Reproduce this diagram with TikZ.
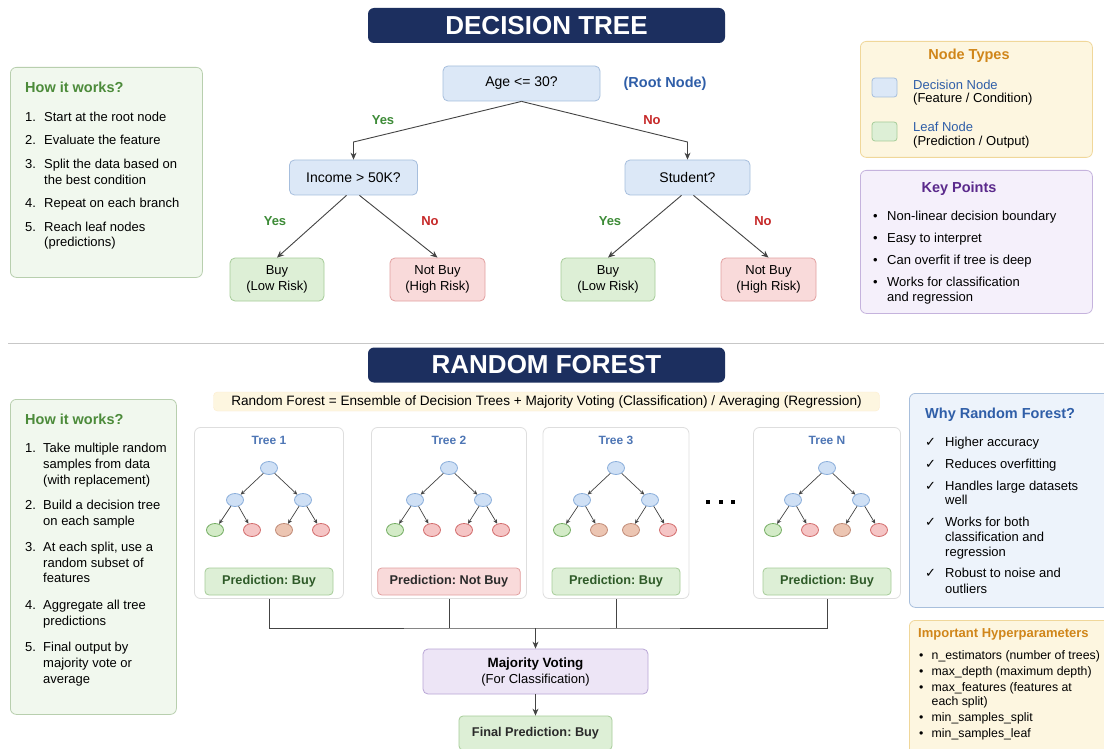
\documentclass[tikz,border=0pt]{standalone}
\usepackage{fontspec}
\setmainfont{Liberation Sans}
\newfontfamily\symfont{DejaVu Sans}
\usetikzlibrary{positioning,arrows.meta,shapes.geometric}
\frenchspacing

\definecolor{navy}{HTML}{1C2F5F}
\definecolor{decfill}{HTML}{DCE8F7}
\definecolor{decdraw}{HTML}{A6BEDD}
\definecolor{leaffill}{HTML}{DDEFD6}
\definecolor{leafdraw}{HTML}{A6CC98}
\definecolor{badfill}{HTML}{F9DADA}
\definecolor{baddraw}{HTML}{E2A0A0}
\definecolor{yesgreen}{HTML}{3D8B37}
\definecolor{nored}{HTML}{C62828}
\definecolor{bluetxt}{HTML}{2F5EA8}
\definecolor{greenfill}{HTML}{F1F8EE}
\definecolor{greendraw}{HTML}{B8CFAE}
\definecolor{greentxt}{HTML}{4C8B3A}
\definecolor{predgreen}{HTML}{2E5A28}
\definecolor{preddark}{HTML}{2A2A2A}
\definecolor{yelfill}{HTML}{FDF6E0}
\definecolor{yeldraw}{HTML}{F0D79A}
\definecolor{orangetxt}{HTML}{D0861A}
\definecolor{lavfill}{HTML}{F5F0FB}
\definecolor{lavdraw}{HTML}{C5B3DD}
\definecolor{purpletxt}{HTML}{5B2A8C}
\definecolor{bluefill}{HTML}{EDF3FB}
\definecolor{bluedraw}{HTML}{A8BFDC}
\definecolor{votefill}{HTML}{EDE5F6}
\definecolor{votedraw}{HTML}{B9A6D6}
\definecolor{edgegrey}{HTML}{444444}
\definecolor{minidec}{HTML}{CFE0F5}
\definecolor{minidecdraw}{HTML}{8AAEDB}
\definecolor{minigreen}{HTML}{D3EBC7}
\definecolor{minigreendraw}{HTML}{74AD62}
\definecolor{minired}{HTML}{F5C5C5}
\definecolor{mireddraw}{HTML}{D26B6B}
\definecolor{minibrown}{HTML}{ECC5B2}
\definecolor{minibrowndraw}{HTML}{C08A76}
\newcommand\chk{{\symfont\char"2713}}

\begin{document}
\begin{tikzpicture}[x=1pt,y=-1pt,
fs/.style={font=\fontsize{#1}{16}\selectfont},
txt/.style={anchor=base west,inner sep=0pt,fs=13},
head/.style={inner sep=0pt,font=\fontsize{14.5}{16}\selectfont\bfseries},
banner/.style={fill=navy,rounded corners=6pt,minimum width=357pt,minimum height=35pt,
    text=white,font=\fontsize{26}{30}\selectfont\bfseries},
panel/.style={draw=#1draw,fill=#1fill,rounded corners=6pt,line width=0.8pt,anchor=north west},
decision/.style={draw=decdraw,fill=decfill,rounded corners=5pt,line width=0.8pt,minimum height=35pt,fs=14},
leaf/.style={draw=leafdraw,fill=leaffill,rounded corners=5pt,line width=0.8pt,minimum width=94pt,
    minimum height=43pt,align=center,fs=13},
badleaf/.style={leaf,draw=baddraw,fill=badfill},
yes/.style={text=yesgreen,inner sep=0pt,font=\fontsize{13}{16}\selectfont\bfseries},
no/.style={yes,text=nored},
edge/.style={draw=edgegrey,line width=0.9pt,-{Stealth[length=7pt,width=6pt]}},
link/.style={draw=edgegrey,line width=0.9pt},
treebox/.style={draw=black!13,fill=white,rounded corners=6pt,line width=0.8pt},
mini/.style={ellipse,minimum width=17pt,minimum height=13pt,inner sep=0pt,line width=0.8pt},
decnode/.style={mini,fill=minidec,draw=minidecdraw},
greenleaf/.style={mini,fill=minigreen,draw=minigreendraw},
redleaf/.style={mini,fill=minired,draw=mireddraw},
brownleaf/.style={mini,fill=minibrown,draw=minibrowndraw},
miniedge/.style={draw=edgegrey,line width=0.7pt,-{Stealth[length=4.5pt,width=4pt]}},
predbox/.style={rounded corners=4pt,line width=0.8pt,minimum width=128pt,minimum height=27pt,
    inner xsep=12pt,font=\fontsize{12.7}{16}\selectfont\bfseries}]

\clip (0,0) rectangle (1104,749);
\fill[white] (0,0) rectangle (1104,749);

% ---------- decision tree ----------
\node (dtbanner) [banner] at (546.5,25.5) {DECISION TREE};

\node (dthow) [panel=green,minimum width=192pt,minimum height=210pt] at (10,67) {};
\node (dthowtitle) [head,text=greentxt,anchor=base west] at (25,93) {How it works?};
\foreach \n/\y/\t [count=\k] in {1./121.5/{Start at the root node},
    2./144.5/{Evaluate the feature},
    3./168.5/{Split the data based on}, /184.5/{the best condition},
    4./207.5/{Repeat on each branch},
    5./231.5/{Reach leaf nodes}, /246.5/{(predictions)}}
  \node (dtstep\k) [txt] at (25,\y) {\makebox[19pt][l]{\n}\t};

\node (age) [decision,minimum width=157pt] at (521.5,83.5) {Age <= 30?};
\node (rootlbl) [head,text=bluetxt,right=23pt of age] {(Root Node)};
\node (income) [decision,minimum width=128pt] at (353.5,177.5) {Income > 50K?};
\node (student) [decision,minimum width=125pt] at (687.5,177.5) {Student?};
\node (buy1) [leaf] at (277,279.5) {Buy\\(Low Risk)};
\node (nobuy1) [badleaf,minimum width=95pt] at (437.5,279.5) {Not Buy\\(High Risk)};
\node (buy2) [leaf] at (608,279.5) {Buy\\(Low Risk)};
\node (nobuy2) [badleaf,minimum width=95pt] at (768.5,279.5) {Not Buy\\(High Risk)};

\coordinate (yesbend) at (353.5,142);
\coordinate (nobend) at (687.5,142);
\draw[edge] (age.south) -- (yesbend) -- (income.north);
\draw[edge] (age.south) -- (nobend) -- (student.north);
\draw[edge] ([xshift=-7pt]income.south) -- (buy1.north);
\draw[edge] ([xshift=6pt]income.south) -- (nobuy1.north);
\draw[edge] ([xshift=-6pt]student.south) -- (buy2.north);
\draw[edge] ([xshift=6pt]student.south) -- (nobuy2.north);

\node (yesa) [yes] at (383,120) {Yes};
\node (noa) [no] at (652,120) {No};
\node (yesb) [yes] at (275,221) {Yes};
\node (nob) [no] at (430,221) {No};
\node (yesc) [yes] at (610,221) {Yes};
\node (noc) [no] at (763,221) {No};

% node types and key points
\node (types) [panel=yel,minimum width=232pt,minimum height=116pt] at (860,41) {};
\node (typestitle) [head,text=orangetxt] at (969,56) {Node Types};
\node (swdec) [draw=decdraw,fill=decfill,rounded corners=3pt,line width=0.8pt,
    minimum width=25pt,minimum height=19pt] at (884.5,87.5) {};
\node (swleaf) [draw=leafdraw,fill=leaffill,rounded corners=3pt,line width=0.8pt,
    minimum width=25pt,minimum height=19pt] at (884.5,131.5) {};
\node (decname) [txt,text=bluetxt] at (913,89.5) {Decision Node};
\node (decnote) [txt] at (913,102.5) {(Feature / Condition)};
\node (leafname) [txt,text=bluetxt] at (913,131.5) {Leaf Node};
\node (leafnote) [txt] at (913,146) {(Prediction / Output)};

\node (keys) [panel=lav,minimum width=232pt,minimum height=143pt] at (860,170) {};
\node (keystitle) [head,text=purpletxt] at (959,189) {Key Points};
\foreach \m/\y/\t [count=\k] in {\textbullet/220.5/{Non-linear decision boundary},
    \textbullet/242.5/{Easy to interpret},
    \textbullet/264.5/{Can overfit if tree is deep},
    \textbullet/286.5/{Works for classification}, /301.5/{and regression}}
  \node (key\k) [txt] at (873,\y) {\makebox[14pt][l]{\m}\t};

\draw[black!22,line width=0.9pt] (8,343) -- (1104,343);

% ---------- random forest ----------
\node (rfbanner) [banner] at (546.5,365) {RANDOM FOREST};
\node (formula) [fill=yelfill,draw=yelfill!92!orange,rounded corners=4pt,minimum width=666pt,
    minimum height=19pt,inner sep=0pt,fs=13.6] at (546.5,401.5)
    {Random Forest = Ensemble of Decision Trees + Majority Voting (Classification) / Averaging (Regression)};

\node (rfhow) [panel=green,minimum width=166pt,minimum height=315pt] at (10,399) {};
\node (rfhowtitle) [head,text=greentxt,anchor=base west] at (25,424) {How it works?};
\foreach \n/\y/\t [count=\k] in {1./452.5/{Take multiple random}, /468.5/{samples from data},
    /484/{(with replacement)},
    2./509.5/{Build a decision tree}, /525.5/{on each sample},
    3./551.5/{At each split, use a}, /567.5/{random subset of}, /582.5/{features},
    4./609.5/{Aggregate all tree}, /625.5/{predictions},
    5./651.5/{Final output by}, /667.5/{majority vote or}, /683.5/{average}}
  \node (rfstep\k) [txt] at (25,\y) {\makebox[18pt][l]{\n}\t};

\foreach \i/\cx/\pw/\pred/\pf/\pd/\pt/\lb/\lc in {1/269/149pt/Buy/leaffill/leafdraw/predgreen/redleaf/brownleaf,
    2/449/155pt/Not Buy/badfill/baddraw/preddark/redleaf/redleaf,
    3/616/146pt/Buy/leaffill/leafdraw/predgreen/brownleaf/brownleaf,
    N/827/147pt/Buy/leaffill/leafdraw/predgreen/redleaf/brownleaf} {
  \node (tree\i) [treebox,minimum width=\pw,minimum height=171pt] at (\cx,513) {};
  \node (title\i) [text=bluetxt!85!white,inner sep=0pt,font=\fontsize{12}{14}\selectfont\bfseries]
    at (\cx,440) {Tree \i};
  \node (r\i) [decnode] at (\cx,468) {};
  \node (a\i) [decnode] at (\cx-34,500) {};
  \node (b\i) [decnode] at (\cx+34,500) {};
  \node (la\i) [greenleaf] at (\cx-54,530) {};
  \node (lb\i) [\lb] at (\cx-17,530) {};
  \node (lc\i) [\lc] at (\cx+15,530) {};
  \node (ld\i) [redleaf] at (\cx+52,530) {};
  \draw[miniedge] (r\i) -- (a\i);
  \draw[miniedge] (r\i) -- (b\i);
  \draw[miniedge] (a\i) -- (la\i);
  \draw[miniedge] (a\i) -- (lb\i);
  \draw[miniedge] (b\i) -- (lc\i);
  \draw[miniedge] (b\i) -- (ld\i);
  \node (pred\i) [predbox,fill=\pf,draw=\pd,text=\pt] at (\cx,581.5) {Prediction: \pred};
}
\foreach \x [count=\k] in {708,721,733}
  \node (dot\k) [fill=black,minimum size=4pt,inner sep=0pt] at (\x,502) {};

\node (vote) [fill=votefill,draw=votedraw,rounded corners=5pt,line width=0.8pt,minimum width=225pt,
    minimum height=45pt,align=center,fs=13] at (535.5,671.5)
    {\fontsize{13.4}{16}\selectfont\bfseries Majority Voting\\(For Classification)};
\node (final) [predbox,fill=leaffill,draw=leafdraw,text=preddark,minimum width=153pt,minimum height=34pt]
    at (535.5,733) {Final Prediction: Buy};
\coordinate (join) at (535.5,628);
\draw[link] (tree1.south) |- (join) -| (treeN.south);
\draw[link] (tree2.south) -- (tree2.south |- join);
\draw[link] (tree3.south) -- (tree3.south |- join);
\draw[edge] (join) -- (vote);
\draw[edge] (vote) -- (final);

% why random forest and hyperparameters
\node (why) [panel=blue,minimum width=215pt,minimum height=214pt] at (909,393) {};
\node (whytitle) [head,text=bluetxt,anchor=base west] at (925,418.3) {Why Random Forest?};
\foreach \m/\y/\t [count=\k] in {\chk/446.5/{Higher accuracy}, \chk/468.5/{Reduces overfitting},
    \chk/490.5/{Handles large datasets}, /504.5/{well},
    \chk/526.5/{Works for both}, /541.5/{classification and}, /556.5/{regression},
    \chk/577.5/{Robust to noise and}, /593.5/{outliers}}
  \node (why\k) [txt] at (925,\y) {\makebox[20pt][l]{\m}\t};

\node (hyper) [panel=yel,minimum width=215pt,minimum height=140pt] at (909,620) {};
\node (hypertitle) [inner sep=0pt,anchor=base west,text=orangetxt,
    font=\fontsize{13}{16}\selectfont\bfseries] at (918,637.7) {Important Hyperparameters};
\foreach \m/\y/\t [count=\k] in {\textbullet/659.5/{n\_estimators (number of trees)},
    \textbullet/675.5/{max\_depth (maximum depth)},
    \textbullet/691.5/{max\_features (features at}, /705.5/{each split)},
    \textbullet/721.5/{min\_samples\_split},
    \textbullet/737.5/{min\_samples\_leaf}}
  \node (hp\k) [txt,fs=12.3] at (919,\y) {\makebox[12.5pt][l]{\m}\t};
\end{tikzpicture}
\end{document}
